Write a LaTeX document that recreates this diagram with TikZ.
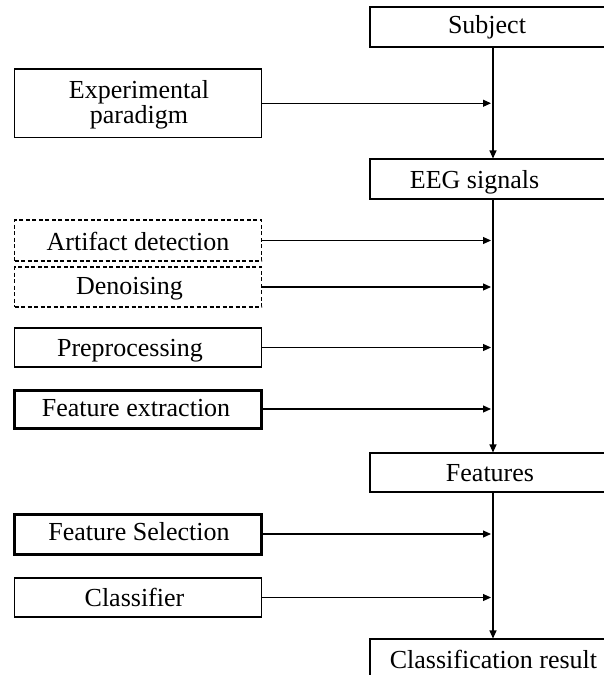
\documentclass[tikz,border=0pt]{standalone}
\usepackage{fontspec}
\setmainfont{Liberation Serif}
\usetikzlibrary{arrows.meta}
\begin{document}
\begin{tikzpicture}[x=1pt,y=-1pt,
  box/.style={draw, rectangle, line width=1.1pt, inner sep=0pt},
  dbox/.style={box, dash pattern=on 4pt off 2.5pt},
  tbox/.style={box, line width=3pt},
  lbox/.style={minimum width=247pt},
  rbox/.style={minimum width=250pt},
  lbl/.style={anchor=base, inner sep=0pt, font=\fontsize{26}{25}\selectfont, align=center},
  arr/.style={line width=1.1pt, -{Triangle[length=8pt,width=7pt]}}]
\useasboundingbox (0,0) rectangle (604,675);
\clip (0,0) rectangle (604,675);
\coordinate (mx) at (493,0);
\coordinate (jx) at (491,0);
% main column
\node[box, rbox, minimum height=40pt] (subj) at (495,27) {};
\node[box, rbox, minimum height=40pt] (eeg) at (495,179) {};
\node[box, rbox, minimum height=39pt] (feat) at (495,472.5) {};
\node[box, rbox, minimum height=40pt] (res) at (495,659) {};
\node[lbl] (subj-t) at (487,33.5) {Subject};
\node[lbl] (eeg-t) at (474.5,188) {EEG signals};
\node[lbl] (feat-t) at (490,481.5) {Features};
\node[lbl] (res-t) at (493.5,668.5) {Classification result};
% side inputs
\node[box, lbox, minimum height=68.5pt] (exp) at (138,103.25) {};
\node[dbox, lbox, minimum height=41pt] (art) at (138,240.5) {};
\node[dbox, lbox, minimum height=40pt] (den) at (138,287) {};
\node[box, lbox, minimum height=39pt] (pre) at (138,347.5) {};
\node[tbox, lbox, minimum height=38pt] (fex) at (138,409) {};
\node[tbox, lbox, minimum height=40pt] (fsel) at (138,534) {};
\node[box, lbox, minimum height=39pt] (cls) at (138,597.5) {};
\node[lbl] (exp-t) at (139,123) {Experimental\\paradigm};
\node[lbl] (art-t) at (138,250.5) {Artifact detection};
\node[lbl] (den-t) at (129.5,294) {Denoising};
\node[lbl] (pre-t) at (130,356) {Preprocessing};
\node[lbl] (fex-t) at (136,416.5) {Feature extraction};
\node[lbl] (fsel-t) at (139,540.5) {Feature Selection};
\node[lbl] (cls-t) at (134.5,606) {Classifier};
% vertical flow
\draw[arr] (subj.south -| mx) -- (eeg.north -| mx);
\draw[arr] (eeg.south -| mx) -- (feat.north -| mx);
\draw[arr] (feat.south -| mx) -- (res.north -| mx);
% horizontal inputs
\foreach \n in {exp,art,den,pre,fex,fsel,cls}
  \draw[arr] (\n.east) -- (\n.east -| jx);
\end{tikzpicture}
\end{document}
